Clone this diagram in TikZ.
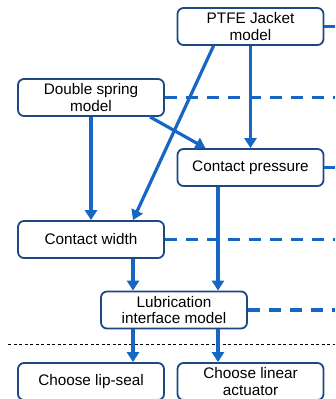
\documentclass[tikz,border=0pt]{standalone}
\usepackage{fontspec}
\setmainfont{Liberation Sans}
\usetikzlibrary{arrows.meta}

\definecolor{linkblue}{RGB}{22,102,196}
\definecolor{boxblue}{RGB}{30,72,130}

\tikzset{
  block/.style={draw=boxblue, line width=1.8pt, rounded corners=6pt, fill=white,
    minimum width=146pt, minimum height=37pt, inner sep=1pt, align=center,
    font=\fontsize{15.3}{16.5}\selectfont},
  link/.style={linkblue, line width=3.2pt, -{Triangle[length=10pt,width=12pt]}},
  feed/.style={linkblue, line width=3.2pt},
  feeddash/.style={linkblue, line width=3.6pt, dash pattern=on 12pt off 9pt}
}

\begin{document}
\begin{tikzpicture}[line cap=butt, line join=round, x=1pt, y=-1pt]
            \useasboundingbox (0,0) rectangle (335,399);

            % models
            \node[block] (ptfe) at (250.5, 26.5) {PTFE Jacket\\model};
            \node[block] (ds)   at (91, 97.5)    {Double spring\\model};
            \node[block] (cp)   at (250.5, 167.5) {Contact pressure};
            \node[block] (cw)   at (91, 239.5)   {Contact width};
            \node[block] (lub)  at (174, 310)    {Lubrication\\interface model};

            % choices
            \node[block] (lip) at (91, 381.5)    {Choose lip-seal};
            \node[block] (act) at (250.5, 381.5) {Choose linear\\actuator};

            % links to the right edge
            \coordinate (ptfeR) at (335, 26.5);
            \coordinate (dsR)   at (335, 97.5);
            \coordinate (cpR)   at (335, 167.5);
            \coordinate (cwR)   at (335, 239.5);
            \coordinate (lubR)  at (335, 310);

            \draw[feed] (ptfe.east) -- (ptfeR);
            \draw[feeddash] (ds.east) -- (dsR);
            \draw[feed] (cp.east) -- (cpR);
            \draw[feeddash] (cw.east) -- (cwR);
            \draw[feeddash] (lub.east) -- (lubR);

            % arrows
            \draw[link] (ptfe.south) -- (cp.north);
            \draw[link] ([xshift=-37pt]ptfe.south) -- ([xshift=42pt]cw.north);
            \draw[link] ([xshift=59pt]ds.south) -- ([xshift=-45pt]cp.north);
            \draw[link] (ds.south) -- (cw.north);
            \draw[link] ([xshift=42pt]cw.south) coordinate (a) -- (a |- lub.north);
            \draw[link] ([xshift=-32.5pt]cp.south) coordinate (b) -- (b |- lub.north);

            % separator
            \coordinate (sepL) at (8, 344);
            \coordinate (sepR) at (335, 344);
            \draw[black, line width=0.7pt, dash pattern=on 3pt off 2.5pt] (sepL) -- (sepR);

            \draw[link] ([xshift=-41pt]lub.south) coordinate (c) -- (c |- lip.north);
            \draw[link] ([xshift=44pt]lub.south) coordinate (d) -- (d |- act.north);

\end{tikzpicture}
\end{document}
